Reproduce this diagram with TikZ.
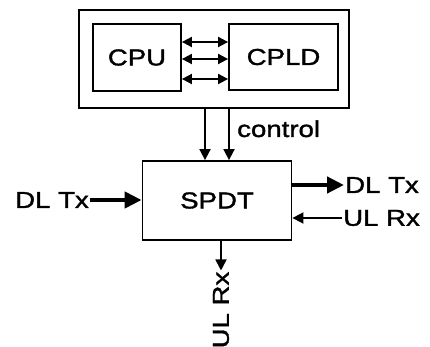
\documentclass[tikz,border=0pt]{standalone}
\usepackage{fontspec}
\setmainfont{Liberation Sans}[FakeStretch=1.2, FakeBold=1.5]
\usetikzlibrary{arrows.meta}
\tikzset{
    block/.style = {draw, line width=1.8pt, inner sep=0pt},
    lbl/.style = {inner sep=1pt, font=\fontsize{23}{27}\selectfont},
    thinarrow/.style = {line width=1.8pt, -{Triangle[length=11pt,width=11pt]}},
    thickarrow/.style = {line width=4.5pt, -{Triangle[length=17pt,width=16pt]}},
    biarrow/.style = {line width=1.8pt, {Triangle[length=10pt,width=10pt]}-{Triangle[length=10pt,width=10pt]}}
}
\begin{document}
\begin{tikzpicture}[x=1pt, y=-1pt]
            \useasboundingbox (0,0) rectangle (430,347);
            % controller board
            \node[block, minimum width=270pt, minimum height=98pt] (board) at (214,59) {};
            \node[block, lbl, minimum width=88pt, minimum height=67pt] (cpu) at (137,57.5) {CPU};
            \node[block, lbl, minimum width=109pt, minimum height=66pt] (cpld) at (283.5,57) {CPLD};
            \foreach \dy in {15.5,-1.5,-21.5}
                \draw[biarrow] ([yshift=\dy pt]cpu.east) -- ([yshift=\dy pt]cpu.east -| cpld.west);
            % switch
            \node[block, lbl, minimum width=149pt, minimum height=79pt] (spdt) at (217,200.5) {SPDT};
            \foreach \dx in {-9,15}
                \draw[thinarrow] ([xshift=\dx pt]board.south) -- ([xshift=\dx pt]board.south |- spdt.north);
            \node[lbl, anchor=base west] (ctrl) at (236,137) {control};
            % ports
            \node[lbl] (dltxin) at (52,200) {DL Tx};
            \node[lbl, anchor=west] (dltxout) at (344,185) {DL Tx};
            \node[lbl, anchor=west] (ulrxin) at (342,218) {UL Rx};
            \node[lbl, rotate=90] (ulrxout) at (221,310) {UL Rx};
            \draw[thickarrow] (dltxin.east) -- (dltxin.east -| spdt.west);
            \draw[thickarrow] (spdt.east |- dltxout.west) -- (dltxout.west);
            \draw[thinarrow] (ulrxin.west) -- (ulrxin.west -| spdt.east);
            \draw[thinarrow] (spdt.south -| ulrxout.east) -- (ulrxout.east);
        \end{tikzpicture}
\end{document}
